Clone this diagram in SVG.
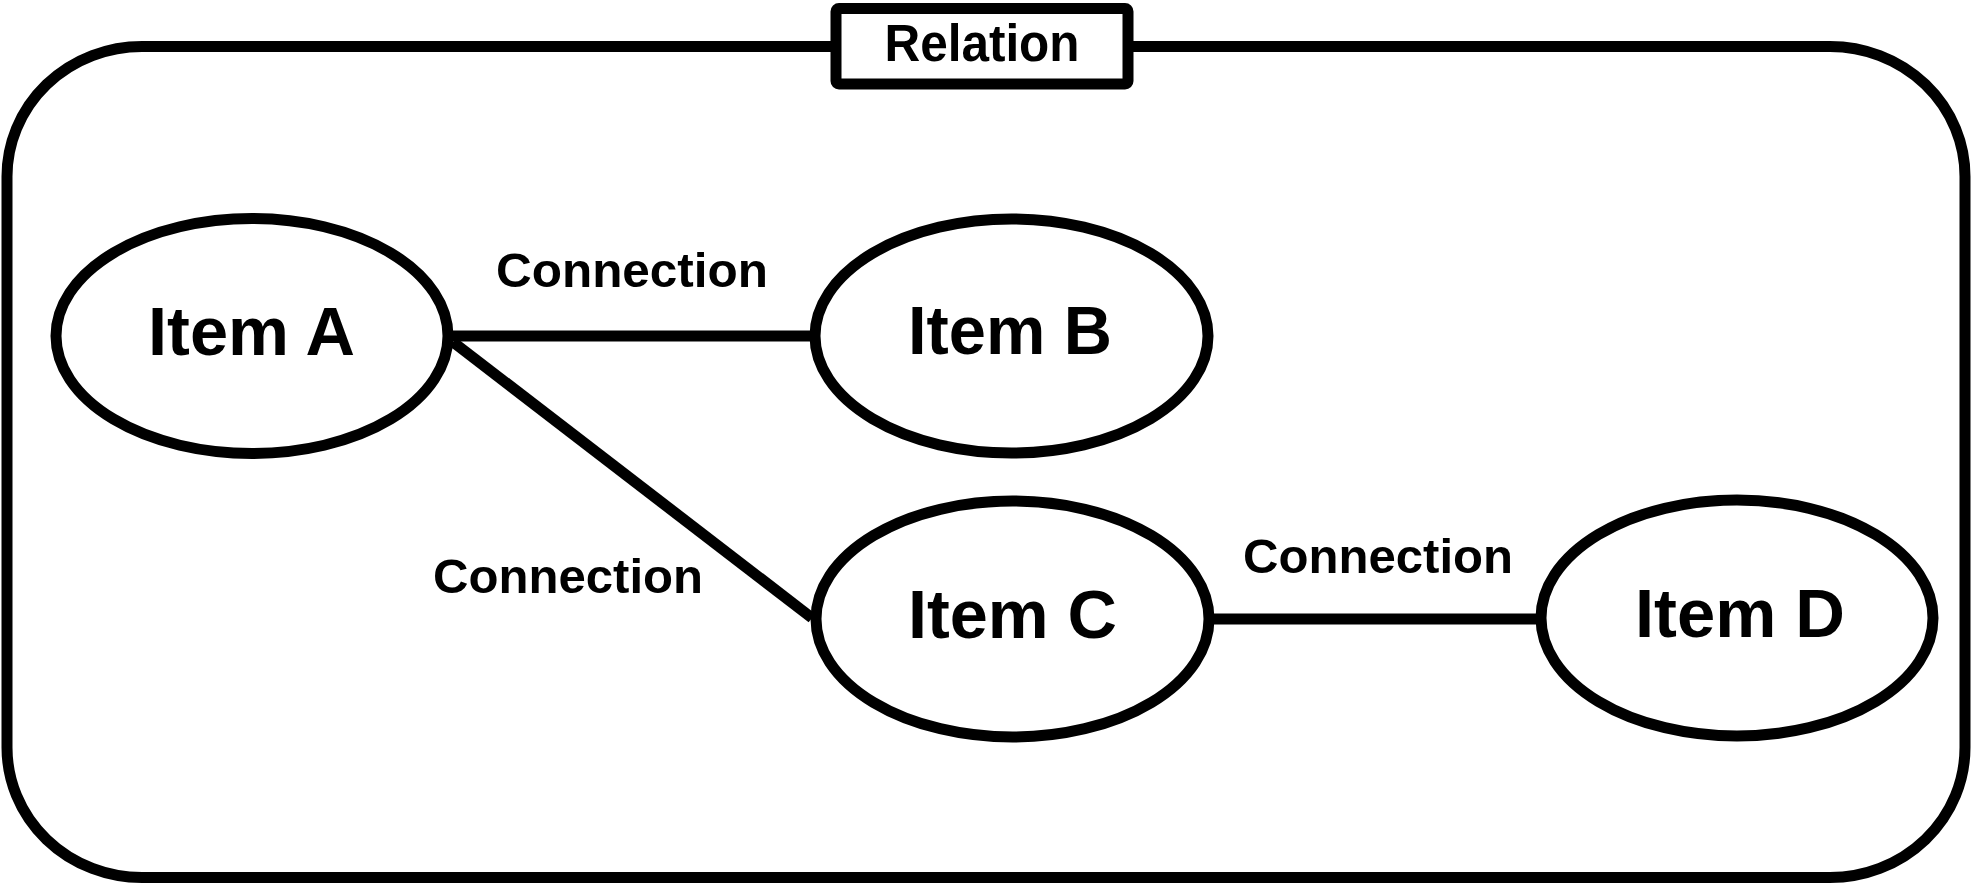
<svg xmlns="http://www.w3.org/2000/svg" width="1972" height="885" viewBox="0 0 1972 885">
<style>
.frame{fill:none;stroke:#000;stroke-width:11}
.node{fill:#fff;stroke:#000;stroke-width:11}
.edge{stroke:#000;stroke-width:11;fill:none}
.t{font-family:"Liberation Sans",Arial,sans-serif;font-weight:bold;fill:#000;text-anchor:middle}
.item{font-size:68px}
.lbl{font-size:49px}
.title{font-size:51px}
</style>
<rect width="1972" height="885" fill="#fff"/>
<g id="frame">
<rect class="frame" x="7" y="46.5" width="1958" height="831" rx="135" ry="130"/>
<rect class="node" x="836" y="8.5" width="292" height="75.5" rx="3"/>
<text class="t title" x="982" y="61" textLength="195" lengthAdjust="spacingAndGlyphs">Relation</text>
</g>
<g id="connectors">
<line class="edge" x1="448" y1="336" x2="815" y2="336"/>
<line class="edge" x1="453" y1="342" x2="812" y2="618"/>
<line class="edge" x1="1209" y1="619" x2="1541" y2="619"/>
<text class="t lbl" x="632" y="287" textLength="272" lengthAdjust="spacingAndGlyphs">Connection</text>
<text class="t lbl" x="568" y="593" textLength="270" lengthAdjust="spacingAndGlyphs">Connection</text>
<text class="t lbl" x="1378" y="573" textLength="270" lengthAdjust="spacingAndGlyphs">Connection</text>
</g>
<g id="itemA">
<ellipse class="node" cx="252" cy="336" rx="196" ry="117.5"/>
<text class="t item" x="251.5" y="355" textLength="207" lengthAdjust="spacingAndGlyphs">Item A</text>
</g>
<g id="itemB">
<ellipse class="node" cx="1011.5" cy="336" rx="196.5" ry="117"/>
<text class="t item" x="1010" y="354" textLength="204" lengthAdjust="spacingAndGlyphs">Item B</text>
</g>
<g id="itemC">
<ellipse class="node" cx="1012.5" cy="619" rx="196.5" ry="118"/>
<text class="t item" x="1012.5" y="638" textLength="209" lengthAdjust="spacingAndGlyphs">Item C</text>
</g>
<g id="itemD">
<ellipse class="node" cx="1737" cy="618" rx="196" ry="118"/>
<text class="t item" x="1740" y="637" textLength="210" lengthAdjust="spacingAndGlyphs">Item D</text>
</g>
</svg>
